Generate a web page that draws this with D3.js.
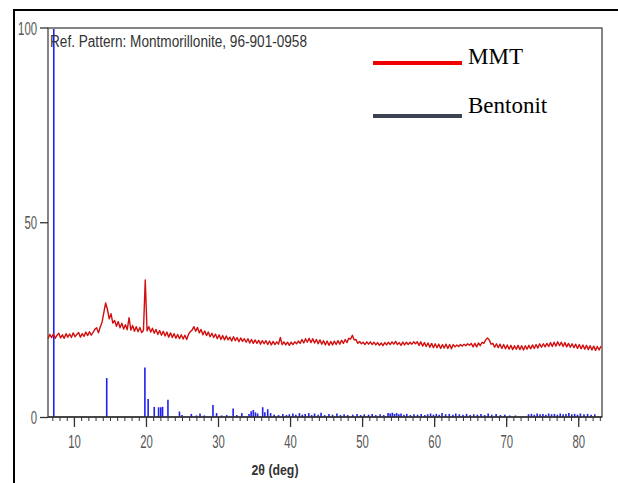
<!DOCTYPE html>
<html>
<head>
<meta charset="utf-8">
<script src="https://cdn.jsdelivr.net/npm/d3@7"></script>
<style>
  body { margin: 0; background: #fff; }
  svg { display: block; }
</style>
</head>
<body>
<svg id="chart" width="618" height="483"></svg>
<script>
// measured pattern, one value every 0.25 deg starting at 6.4 deg
const X_START = 6.4
const X_STEP = 0.25
const mmt = [
  20.1, 21.2, 20.4, 21.3, 20.2, 21.0, 21.5, 20.3, 21.1, 20.2, 21.4, 20.5, 21.3, 20.4, 21.6, 20.6, 21.2, 21.7, 20.5, 21.4,
  20.7, 21.8, 20.9, 21.9, 21.0, 21.7, 22.5, 22.9, 21.6, 23.1, 24.3, 26.8, 29.3, 27.6, 25.2, 26.5, 24.1, 24.8, 23.3, 24.5,
  22.9, 24.1, 22.6, 23.7, 22.4, 25.5, 22.3, 23.5, 22.0, 23.2, 21.9, 23.0, 21.7, 22.2, 35.2, 22.1, 23.2, 21.8, 22.8, 21.5,
  22.5, 21.2, 22.2, 21.0, 22.0, 20.8, 21.8, 20.5, 21.6, 20.4, 21.4, 20.2, 21.2, 20.1, 21.1, 20.0, 21.0, 19.9, 21.2, 21.9,
  22.3, 23.2, 22.0, 23.0, 21.6, 22.5, 21.1, 22.1, 20.9, 21.8, 20.6, 21.5, 20.4, 21.3, 20.1, 21.1, 19.9, 20.9, 19.8, 20.8,
  19.8, 20.5, 19.5, 20.6, 19.6, 20.4, 19.3, 20.3, 19.4, 20.1, 19.2, 20.1, 19.0, 19.9, 18.9, 19.8, 18.9, 19.7, 18.7, 19.6,
  18.8, 19.6, 18.6, 19.5, 18.5, 19.4, 18.6, 19.3, 18.7, 20.4, 18.6, 19.3, 18.5, 19.2, 18.4, 19.2, 18.6, 19.3, 18.8, 19.5,
  18.9, 19.9, 19.0, 20.1, 19.2, 20.2, 19.1, 20.1, 19.0, 19.9, 18.8, 19.8, 18.7, 19.6, 18.5, 19.5, 18.4, 19.4, 18.5, 19.5,
  18.6, 19.6, 18.7, 19.7, 18.9, 19.9, 19.1, 20.2, 20.0, 21.0, 19.8, 19.9, 18.9, 19.4, 18.8, 19.2, 18.6, 19.3, 18.7, 19.3,
  18.6, 19.2, 18.5, 19.1, 18.4, 19.0, 18.3, 19.1, 18.5, 19.2, 18.6, 19.3, 18.7, 19.4, 18.6, 19.1, 18.4, 19.2, 18.5, 19.2,
  18.6, 19.2, 18.7, 19.3, 18.8, 19.3, 18.4, 19.3, 18.2, 19.1, 18.1, 19.0, 17.9, 18.9, 17.8, 18.8, 17.8, 18.7, 17.6, 18.6,
  17.7, 18.7, 17.6, 18.6, 17.5, 18.6, 18.0, 18.5, 18.1, 18.6, 18.2, 18.7, 18.3, 18.8, 18.4, 18.9, 18.0, 18.9, 18.0, 19.0,
  18.3, 19.2, 18.9, 19.8, 20.3, 19.8, 18.7, 18.9, 17.9, 18.8, 17.8, 18.7, 17.6, 18.6, 17.5, 18.5, 17.4, 18.4, 17.3, 18.3,
  17.4, 18.4, 17.3, 18.3, 17.2, 18.3, 17.4, 18.4, 17.5, 18.5, 17.6, 18.6, 17.7, 18.8, 17.9, 18.8, 18.0, 18.9, 18.1, 19.1,
  18.1, 19.2, 18.2, 19.3, 18.3, 19.2, 18.1, 19.1, 18.0, 18.9, 17.9, 18.8, 17.8, 18.7, 17.6, 18.6, 17.5, 18.5, 17.4, 18.4,
  17.3, 18.3, 17.2, 18.2, 17.1, 18.1, 17.2, 18.2
]

// reference pattern sticks (Montmorillonite 96-901-0958)
const refPos = [
  7.2, 14.55, 19.85, 20.3, 21.15, 21.75, 22.05, 22.3, 23.05, 24.65,
  25.0, 26.3, 27.0, 27.5, 28.1, 29.3, 29.8, 30.5, 31.2, 32.1,
  32.6, 33.3, 34.3, 34.6, 34.9, 35.2, 35.5, 36.2, 36.5, 36.9,
  37.3, 37.8, 38.4, 39.0, 39.5, 39.9, 40.4, 40.8, 41.3, 41.7,
  42.1, 42.6, 43.0, 43.4, 43.9, 44.3, 44.8, 45.4, 45.9, 46.5,
  47.0, 47.5, 48.0, 48.7, 49.3, 49.8, 50.3, 50.9, 51.4, 51.9,
  52.5, 53.0, 53.6, 53.9, 54.2, 54.5, 54.8, 55.1, 55.4, 55.8,
  56.2, 56.7, 57.2, 57.7, 58.2, 58.7, 59.1, 59.5, 59.9, 60.3,
  60.7, 61.1, 61.6, 62.1, 62.6, 63.0, 63.5, 64.0, 64.5, 65.0,
  65.5, 66.0, 66.5, 67.0, 67.5, 68.0, 68.6, 69.2, 69.8, 70.5,
  71.3, 73.1, 73.5, 73.9, 74.3, 74.7, 75.1, 75.5, 75.9, 76.3,
  76.7, 77.1, 77.5, 77.9, 78.3, 78.7, 79.1, 79.5, 79.9, 80.3,
  80.8, 81.3, 81.8, 82.3
]
const refInt = [
  100, 10, 12.7, 4.6, 2.6, 2.5, 2.5, 2.6, 4.4, 1.4,
  0.5, 0.8, 0.4, 0.9, 0.4, 3.1, 1.0, 0.4, 0.5, 2.2,
  0.5, 1.0, 0.8, 1.5, 1.8, 1.2, 0.9, 2.5, 1.2, 2.0,
  1.0, 0.6, 0.5, 0.8, 0.5, 0.7, 0.9, 0.6, 1.0, 0.6,
  0.8, 1.0, 0.5, 0.9, 0.6, 1.1, 0.5, 0.8, 0.6, 0.9,
  0.5, 0.7, 0.5, 0.6, 0.8, 0.5, 0.7, 0.6, 0.8, 0.5,
  0.7, 0.5, 1.0, 0.9, 1.1, 0.8, 1.0, 0.7, 0.9, 0.6,
  0.8, 0.5, 0.7, 0.6, 0.8, 0.5, 0.7, 0.9, 0.6, 0.8,
  0.6, 1.0, 0.7, 0.8, 0.6, 0.9, 0.7, 0.6, 0.8, 0.5,
  0.7, 0.6, 0.8, 0.5, 0.9, 0.6, 0.8, 0.5, 0.6, 0.4,
  0.4, 0.7, 0.8, 0.6, 0.9, 0.7, 0.8, 0.6, 0.9, 0.7,
  0.8, 0.6, 0.9, 0.7, 0.8, 1.0, 0.7, 0.8, 0.6, 0.9,
  0.7, 0.8, 0.6, 0.7
]

const xMajor = [10, 20, 30, 40, 50, 60, 70, 80]
const xMinor = d3.range(7, 84)
const yTicks = [0, 50, 100]
const legendNames = ['MMT', 'Bentonit']
const legendColors = ['#f00000', '#3b4252']

const svg = d3.select('#chart')

// outer box (top and left edges only)
svg.append('path')
   .attr('d', 'M14,483V10H618')
   .attr('fill', 'none')
   .attr('stroke', '#000')
   .attr('stroke-width', 2)

const x = d3.scaleLinear().domain([6.4, 83.3]).range([48, 602])
const y = d3.scaleLinear().domain([0, 100]).range([417, 27.5])

// plot frame
svg.append('rect')
   .attr('x', 48).attr('y', 28)
   .attr('width', 602 - 48).attr('height', 417 - 28)
   .attr('fill', 'none')
   .attr('stroke', '#444')
   .attr('stroke-width', 1.3)

// reference sticks
svg.append('g')
   .selectAll('line')
   .data(refPos)
   .join('line')
   .attr('x1', d => x(d)).attr('x2', d => x(d))
   .attr('y1', y(0))
   .attr('y2', (d, i) => Math.max(y(refInt[i]), 29))
   .attr('stroke', '#1f1fef')
   .attr('stroke-width', 1.6)

// measured pattern
const line = d3.line()
   .x((d, i) => x(X_START + i * X_STEP))
   .y(d => y(d))

svg.append('path')
   .datum(mmt)
   .attr('d', line)
   .attr('fill', 'none')
   .attr('stroke', '#d20f0f')
   .attr('stroke-width', 1.4)
   .attr('stroke-linejoin', 'round')

// x axis: minor then major ticks
const gMinor = svg.append('g')
   .attr('transform', `translate(0,${y(0)})`)
   .call(d3.axisBottom(x).tickValues(xMinor).tickSize(4).tickSizeOuter(0).tickFormat(''))
gMinor.select('.domain').remove()
gMinor.selectAll('line').attr('stroke', '#333')

const gx = svg.append('g')
   .attr('transform', `translate(0,${y(0)})`)
   .call(d3.axisBottom(x).tickValues(xMajor).tickSize(10).tickSizeOuter(0))
gx.select('.domain').remove()
gx.selectAll('line').attr('stroke', '#333').attr('stroke-width', 1.3)
gx.selectAll('text')
  .attr('y', 0).attr('dy', null)
  .attr('transform', 'translate(0,31) scale(0.63,1)')
  .attr('font-family', 'Liberation Sans, Arial, sans-serif')
  .attr('font-size', 18)
  .attr('fill', '#555')

svg.append('line')
   .attr('x1', 48).attr('x2', 602)
   .attr('y1', y(0)).attr('y2', y(0))
   .attr('stroke', '#333').attr('stroke-width', 1.3)

// y axis
const gy = svg.append('g')
   .attr('transform', 'translate(48,0)')
   .call(d3.axisLeft(y).tickValues(yTicks).tickSize(8).tickSizeOuter(0))
gy.select('.domain').remove()
gy.selectAll('line').attr('stroke', '#333').attr('stroke-width', 1.3)
gy.selectAll('text')
  .attr('x', 0).attr('dy', null)
  .attr('transform', 'translate(-11,6.5) scale(0.63,1)')
  .attr('font-family', 'Liberation Sans, Arial, sans-serif')
  .attr('font-size', 18)
  .attr('fill', '#555')

// axis title
svg.append('text')
   .attr('x', 275).attr('y', 475)
   .attr('text-anchor', 'middle')
   .attr('font-family', 'Liberation Sans, Arial, sans-serif')
   .attr('font-weight', 'bold')
   .attr('font-size', 14)
   .attr('textLength', 47)
   .attr('lengthAdjust', 'spacingAndGlyphs')
   .attr('fill', '#333')
   .text('2θ (deg)')

// reference label
svg.append('text')
   .attr('x', 50).attr('y', 47)
   .attr('font-family', 'Liberation Sans, Arial, sans-serif')
   .attr('font-size', 16)
   .attr('textLength', 257)
   .attr('lengthAdjust', 'spacingAndGlyphs')
   .attr('fill', '#333')
   .text('Ref. Pattern: Montmorillonite, 96-901-0958')

// legend
const legend = svg.append('g')
   .selectAll('g')
   .data(legendNames)
   .join('g')

legend.append('line')
   .attr('x1', 373).attr('x2', 462)
   .attr('y1', (d, i) => 63 + i * 53).attr('y2', (d, i) => 63 + i * 53)
   .attr('stroke', (d, i) => legendColors[i])
   .attr('stroke-width', 3.8)

legend.append('text')
   .attr('x', 468).attr('y', (d, i) => 64 + i * 49)
   .attr('font-family', 'Liberation Serif, Times New Roman, serif')
   .attr('font-size', 23)
   .attr('fill', '#000')
   .text(d => d)
</script>
</body>
</html>
